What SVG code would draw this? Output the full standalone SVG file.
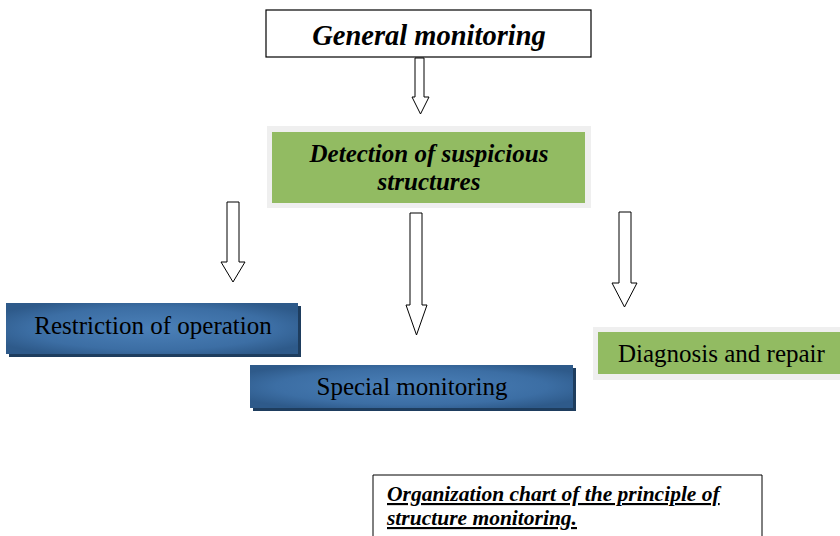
<svg xmlns="http://www.w3.org/2000/svg" width="840" height="536" viewBox="0 0 840 536">
<defs>
<radialGradient id="blue" cx="0.5" cy="0.5" r="0.6">
<stop offset="0" stop-color="#4B80B8"/>
<stop offset="0.7" stop-color="#3C6EA4"/>
<stop offset="1" stop-color="#2E5A8A"/>
</radialGradient>
<style>
.arrow{fill:#fff;stroke:#000;stroke-width:1}
.bi{font-family:"Liberation Serif","Times New Roman",serif;font-weight:bold;font-style:italic;fill:#000}
.rg{font-family:"Liberation Serif","Times New Roman",serif;fill:#000}
.green{fill:#92BB62}
.halo{fill:#EFEFEF}
.shadow{fill:#1E3D5E}
</style>
</defs>
<rect width="840" height="536" fill="#fff"/>
<g id="general-monitoring">
<rect x="266" y="10" width="325" height="47" fill="#fff" stroke="#000" stroke-width="1.2"/>
<text class="bi" x="429" y="45" font-size="28.5" text-anchor="middle">General monitoring</text>
</g>
<g id="detection">
<rect class="halo" x="267" y="126" width="324" height="82"/>
<rect class="green" x="272" y="132" width="313" height="71"/>
<text class="bi" x="429" y="162" font-size="25" text-anchor="middle">Detection of suspicious</text>
<text class="bi" x="429" y="190" font-size="25" text-anchor="middle">structures</text>
</g>
<g id="restriction">
<rect class="shadow" x="9" y="306" width="292" height="51"/>
<rect x="6" y="303" width="292" height="51" fill="url(#blue)"/>
<text class="rg" x="153" y="334" font-size="25" text-anchor="middle">Restriction of operation</text>
</g>
<g id="special-monitoring">
<rect class="shadow" x="253" y="368" width="323" height="43"/>
<rect x="250" y="365" width="323" height="43" fill="url(#blue)"/>
<text class="rg" x="412" y="395" font-size="25" text-anchor="middle">Special monitoring</text>
</g>
<g id="diagnosis">
<rect class="halo" x="593" y="327" width="247" height="53"/>
<rect class="green" x="598" y="332" width="242" height="42"/>
<text class="rg" x="618" y="362" font-size="25">Diagnosis and repair</text>
</g>
<g id="caption">
<path d="M373,536 V475 H762 V536" fill="#fff" stroke="#000" stroke-width="1"/>
<text class="bi" x="387" y="501" font-size="21.5" text-decoration="underline">Organization chart of the principle of</text>
<text class="bi" x="387" y="525" font-size="21.5" text-decoration="underline">structure monitoring.</text>
</g>
<g id="connectors">
<path class="arrow" d="M415,58 H424 V97 H429 L420.5,114 L412,97 H415 Z"/>
<path class="arrow" d="M227,202 H239 V262 H245 L233,282 L221,262 H227 Z"/>
<path class="arrow" d="M410,213 H422 V305 H427 L416.5,335 L406,305 H410 Z"/>
<path class="arrow" d="M619,212 H631 V283 H637 L624.5,307 L612,283 H619 Z"/>
</g>
</svg>
